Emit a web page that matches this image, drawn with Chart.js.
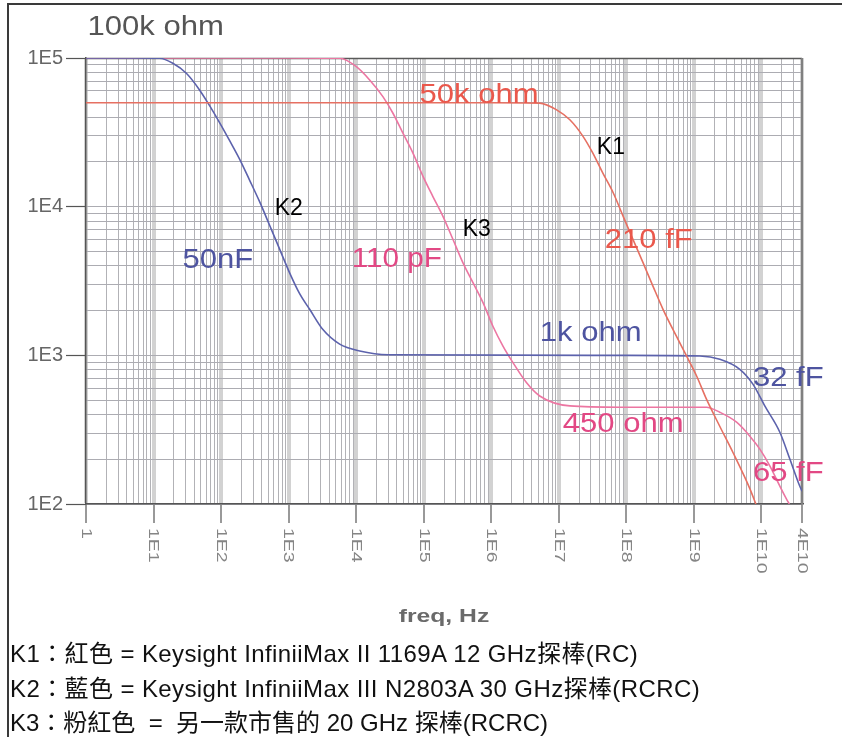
<!DOCTYPE html>
<html>
<head>
<meta charset="utf-8">
<script src="https://cdn.jsdelivr.net/npm/chart.js@4"></script>
<style>
  html, body { margin: 0; padding: 0; background: #fff; }
  body { width: 842px; height: 737px; position: relative; overflow: hidden; }
  #frame { position: absolute; left: 7px; top: 3px; width: 850px; height: 760px;
           border-left: 2px solid #3a3a3a; border-top: 2px solid #3a3a3a; }
  #chart { position: absolute; left: 0; top: 0; }
  #notes { position: absolute; left: 10px; top: 637px; color: #111;
           font: 24px "Liberation Sans", "Noto Sans CJK TC", sans-serif;
           line-height: 34.5px; white-space: pre; }
  #notes .wide { letter-spacing: 0.4px; }
</style>
</head>
<body>
<div id="frame"></div>
<canvas id="chart" width="842" height="640"></canvas>
<div id="notes"><div class="wide">K1：紅色 = Keysight InfiniiMax II 1169A 12 GHz探棒(RC)</div><div class="wide">K2：藍色 = Keysight InfiniiMax III N2803A 30 GHz探棒(RCRC)</div><div>K3：粉紅色  =  另一款市售的 20 GHz 探棒(RCRC)</div></div>
<script>
// axis ticks
const xTickValues = [1, 1e1, 1e2, 1e3, 1e4, 1e5, 1e6, 1e7, 1e8, 1e9, 1e10, 4e10];
const xTickLabels = ['1', '1E1', '1E2', '1E3', '1E4', '1E5', '1E6', '1E7', '1E8', '1E9', '1E10', '4E10'];
const yTickValues = [1e2, 1e3, 1e4, 1e5];
const yTickLabels = ['1E2', '1E3', '1E4', '1E5'];

// K1 (red) - impedance in ohm vs freq in Hz
const k1Freq = [1, 1e6, 5.2e6, 9.3e6, 1.46e7, 2.3e7, 3.2e7, 4.5e7, 6.4e7, 9e7, 1.26e8, 1.77e8,
  2.5e8, 3.5e8, 5.5e8, 7.8e8, 1.1e9, 1.54e9, 2.4e9, 3.8e9, 6.8e9, 8.3e9];
const k1Ohm = [50000, 50000, 49700, 44800, 38400, 29600, 22900, 16800, 12400, 8600, 6000, 4200,
  2900, 2040, 1350, 990, 726, 507, 336, 222, 126, 100];

// K2 (blue)
const k2Freq = [1, 5, 12.3, 19.3, 30.6, 48, 67.6, 95, 134, 188, 264, 372, 523, 736, 1035, 1456,
  2050, 3220, 5700, 11300, 3e4, 1e8, 1.23e9, 2.43e9, 4.8e9, 7.5e9, 1.13e10, 1.88e10, 2.65e10,
  3.7e10, 4e10];
const k2Ohm = [100000, 100000, 99500, 92100, 78900, 61000, 47800, 36800, 27800, 20900, 15100,
  10800, 7500, 5180, 3590, 2600, 2040, 1490, 1190, 1070, 1010, 1000, 990, 940, 805, 640, 455,
  304, 200, 132, 122];

// K3 (pink)
const k3Freq = [1, 1000, 5700, 10070, 15850, 24900, 35100, 49300, 69400, 97700, 1.37e5, 1.93e5,
  2.72e5, 3.82e5, 5.37e5, 7.56e5, 1.06e6, 1.5e6, 2.1e6, 3.32e6, 5.23e6, 1.46e7, 8e7, 1.54e9,
  2.43e9, 4.3e9, 6.76e9, 9.5e9, 1.34e10, 1.88e10, 2.36e10, 2.6e10];
const k3Ohm = [100000, 100000, 99500, 87400, 71200, 55000, 42500, 31200, 22900, 16000, 11700,
  8610, 6010, 4190, 3080, 2260, 1570, 1150, 893, 656, 533, 457, 448, 448, 414, 355, 286, 234,
  180, 132, 108, 100];

const RED = 'rgb(230,112,98)';
const BLUE = 'rgb(92,98,172)';
const PINK = 'rgb(236,118,162)';
const RED_TXT = 'rgb(234,88,76)';
const BLUE_TXT = 'rgb(78,84,160)';
const PINK_TXT = 'rgb(226,72,132)';

// labels placed at (freq, ohm) of their left baseline
const notes = [
  { text: '100k ohm', f: 1.05, ohm: 143000, color: 'rgb(85,85,85)', size: 27, stretch: 1.15 },
  { text: '50k ohm', f: 8.7e4, ohm: 50000, color: RED_TXT, size: 27, stretch: 1.15 },
  { text: 'K1', f: 3.66e7, ohm: 22700, color: '#000', size: 23, stretch: 1 },
  { text: 'K2', f: 621, ohm: 8840, color: '#000', size: 23, stretch: 1 },
  { text: 'K3', f: 3.78e5, ohm: 6300, color: '#000', size: 23, stretch: 1 },
  { text: '50nF', f: 26.9, ohm: 3840, color: BLUE_TXT, size: 27, stretch: 1.15 },
  { text: '110 pF', f: 8580, ohm: 3900, color: PINK_TXT, size: 27, stretch: 1.1 },
  { text: '210 fF', f: 4.8e7, ohm: 5310, color: RED_TXT, size: 27, stretch: 1.15 },
  { text: '1k ohm', f: 5.23e6, ohm: 1240, color: BLUE_TXT, size: 27, stretch: 1.15 },
  { text: '450 ohm', f: 1.15e7, ohm: 304, color: PINK_TXT, size: 27, stretch: 1.15 },
  { text: '32 fF', f: 7.5e9, ohm: 620, color: BLUE_TXT, size: 27, stretch: 1.15 },
  { text: '65 fF', f: 7.5e9, ohm: 143, color: PINK_TXT, size: 27, stretch: 1.15 },
];

const FONT = "'Liberation Sans', Arial, sans-serif";
Chart.defaults.font.family = FONT;

// 1..9 x 10^n grid ticks
function logTicks(min, max, majors) {
  const ticks = [];
  for (let e = Math.floor(Math.log10(min)); e <= Math.ceil(Math.log10(max)); e++) {
    for (let m = 1; m < 10; m++) {
      const v = m * Math.pow(10, e);
      if (v >= min && v <= max) ticks.push({ value: v, major: majors.includes(v) });
    }
  }
  return ticks;
}

function toPoints(xs, ys) {
  return xs.map((x, i) => ({ x, y: ys[i] }));
}

function stretchText(ctx, text, x, y, sx) {
  ctx.save();
  ctx.translate(x, y);
  ctx.scale(sx, 1);
  ctx.fillText(text, 0, 0);
  ctx.restore();
}

const decorPlugin = {
  id: 'decor',
  beforeDatasetsDraw(chart) {
    const { ctx, chartArea: a } = chart;
    ctx.save();
    ctx.strokeStyle = '#5a5a5a';
    ctx.lineWidth = 1.5;
    ctx.beginPath();
    ctx.moveTo(a.left, a.top + 0.5);
    ctx.lineTo(a.right, a.top + 0.5);
    ctx.stroke();
    ctx.strokeStyle = '#808080';
    ctx.lineWidth = 2;
    ctx.beginPath();
    ctx.moveTo(a.right, a.top);
    ctx.lineTo(a.right, a.bottom);
    ctx.stroke();
    ctx.restore();
  },
  afterDraw(chart) {
    const { ctx, chartArea: a } = chart;
    const xs = chart.scales.x;
    const ys = chart.scales.y;
    ctx.save();

    // rotated x tick labels, reading downwards
    ctx.fillStyle = '#858585';
    ctx.font = '15px ' + FONT;
    ctx.textAlign = 'left';
    ctx.textBaseline = 'middle';
    xTickValues.forEach((v, i) => {
      ctx.save();
      ctx.translate(xs.getPixelForValue(v), a.bottom + 24);
      ctx.rotate(Math.PI / 2);
      ctx.scale(1.3, 1);
      ctx.fillText(xTickLabels[i], 0, 0);
      ctx.restore();
    });

    // axis title
    ctx.fillStyle = '#6a6a6a';
    ctx.font = 'bold 19px ' + FONT;
    ctx.textAlign = 'center';
    ctx.textBaseline = 'alphabetic';
    stretchText(ctx, 'freq, Hz', (a.left + a.right) / 2, a.bottom + 118, 1.3);

    // curve annotations
    ctx.textAlign = 'left';
    notes.forEach((n) => {
      ctx.fillStyle = n.color;
      ctx.font = n.size + 'px ' + FONT;
      stretchText(ctx, n.text, xs.getPixelForValue(n.f), ys.getPixelForValue(n.ohm), n.stretch);
    });
    ctx.restore();
  },
};

const lineStyle = { borderWidth: 1.6, pointRadius: 0, fill: false, cubicInterpolationMode: 'monotone' };

new Chart(document.getElementById('chart'), {
  type: 'line',
  data: {
    datasets: [
      { label: 'K1', data: toPoints(k1Freq, k1Ohm), borderColor: RED, ...lineStyle },
      { label: 'K2', data: toPoints(k2Freq, k2Ohm), borderColor: BLUE, ...lineStyle },
      { label: 'K3', data: toPoints(k3Freq, k3Ohm), borderColor: PINK, ...lineStyle },
    ],
  },
  options: {
    responsive: false,
    animation: false,
    events: [],
    layout: { padding: { left: 0, right: 40, top: 58, bottom: 0 } },
    plugins: { legend: { display: false }, tooltip: { enabled: false } },
    scales: {
      x: {
        type: 'logarithmic',
        min: 1,
        max: 4e10,
        afterBuildTicks: (s) => { s.ticks = logTicks(1, 4e10, xTickValues); },
        afterFit: (s) => { s.height = 136; },
        ticks: { display: false, autoSkip: false },
        grid: {
          color: (c) => (c.tick && c.tick.major ? 'rgb(210,210,210)' : 'rgb(178,178,182)'),
          lineWidth: (c) => (c.tick && c.tick.major ? 4 : 1),
          tickLength: 19,
          tickWidth: 1.2,
          tickColor: (c) => (c.tick && c.tick.major ? '#555' : 'rgba(0,0,0,0)'),
        },
        border: { color: '#555', width: 1.5 },
      },
      y: {
        type: 'logarithmic',
        min: 1e2,
        max: 1e5,
        afterBuildTicks: (s) => { s.ticks = logTicks(1e2, 1e5, yTickValues); },
        afterFit: (s) => { s.width = 86; },
        ticks: {
          autoSkip: false,
          padding: 3,
          color: '#666',
          font: { size: 20 },
          callback: (v) => {
            const i = yTickValues.indexOf(v);
            return i >= 0 ? yTickLabels[i] : '';
          },
        },
        grid: {
          color: 'rgb(172,172,178)',
          lineWidth: 1,
          tickLength: 20,
          tickWidth: 1.2,
          tickColor: (c) => (c.tick && c.tick.major ? '#555' : 'rgba(0,0,0,0)'),
        },
        border: { color: '#555', width: 1.5 },
      },
    },
  },
  plugins: [decorPlugin],
});
</script>
</body>
</html>
